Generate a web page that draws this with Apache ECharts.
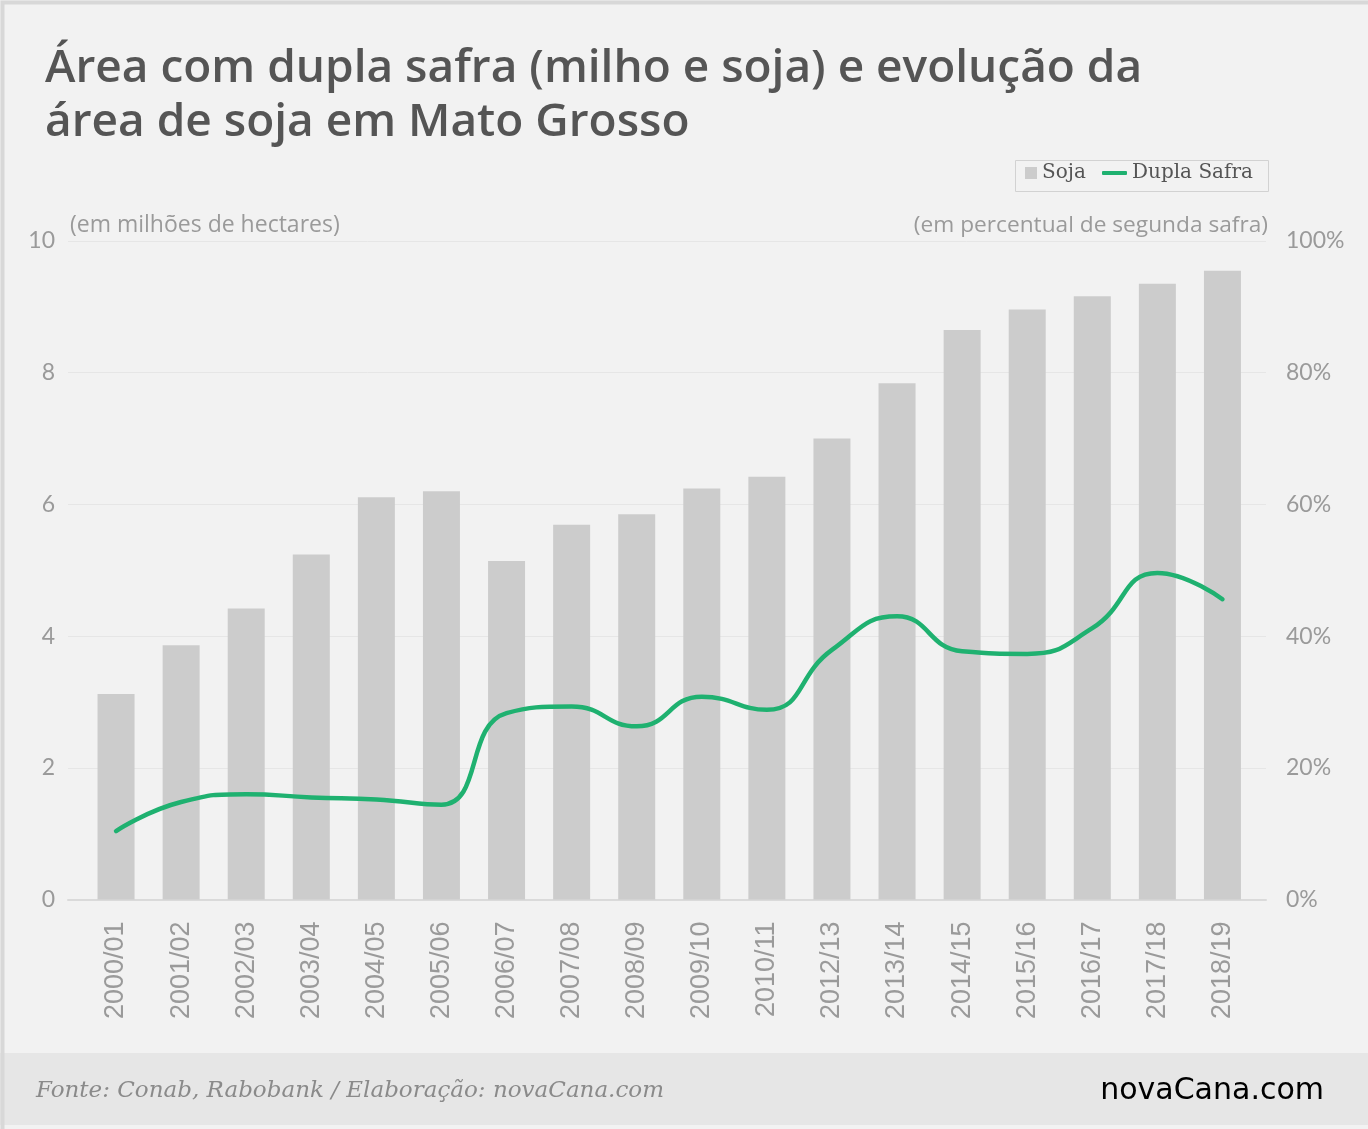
<!DOCTYPE html>
<html>
<head>
<meta charset="utf-8">
<title>Área com dupla safra e soja em Mato Grosso</title>
<script src="https://cdn.jsdelivr.net/npm/echarts@6/dist/echarts.min.js"></script>
<style>
  html, body { margin: 0; padding: 0; background: #f2f2f2; }
  #chart { width: 1368px; height: 1129px; }
</style>
</head>
<body>
<div id="chart"></div>
<script>
const categories = ['2000/01', '2001/02', '2002/03', '2003/04', '2004/05', '2005/06', '2006/07',
  '2007/08', '2008/09', '2009/10', '2010/11', '2012/13', '2013/14', '2014/15', '2015/16',
  '2016/17', '2017/18', '2018/19']
// área de soja, milhões de hectares
const soja = [3.12, 3.86, 4.42, 5.24, 6.11, 6.20, 5.14, 5.69, 5.85, 6.24, 6.42, 7.00, 7.84,
  8.65, 8.96, 9.16, 9.35, 9.55]
// dupla safra, % da área
const duplaSafra = [10.4, 14.8, 16.0, 15.5, 15.2, 14.4, 28.3, 29.3, 26.3, 30.8, 28.8, 37.9,
  43.0, 37.7, 37.3, 41.2, 49.6, 45.6]
const leftTicks = { min: 0, max: 10, interval: 2 }
const rightTicks = { min: 0, max: 100, interval: 20 }

const sans = 'Lato, "Open Sans", sans-serif'
const slab = '"DejaVu Serif", serif'
const grey = '#9a9a9a'
const green = '#1fb170'

const chart = echarts.init(document.getElementById('chart'))

chart.setOption({
  backgroundColor: '#f2f2f2',
  animation: false,
  title: {
    text: 'Área com dupla safra (milho e soja) e evolução da\nárea de soja em Mato Grosso',
    left: 40,
    top: 37,
    textStyle: {
      fontFamily: '"Open Sans", sans-serif',
      fontSize: 46,
      fontWeight: 600,
      color: '#555555',
      lineHeight: 54
    }
  },
  legend: [
    {
      left: 1025,
      top: 162,
      padding: 0,
      data: ['Soja'],
      icon: 'rect',
      itemWidth: 12,
      itemHeight: 12,
      textStyle: { fontFamily: slab, fontSize: 20, color: '#555555', lineHeight: 22 }
    },
    {
      left: 1102,
      top: 162,
      padding: 0,
      data: ['Dupla Safra'],
      icon: 'roundRect',
      itemWidth: 25,
      itemHeight: 4,
      textStyle: { fontFamily: slab, fontSize: 20, color: '#555555', lineHeight: 22 }
    }
  ],
  grid: [
    { left: 68, right: 102, top: 241, bottom: 229.5 },
    { left: 83.5, right: 113, top: 241, bottom: 229.5 }
  ],
  xAxis: [
    {
      gridIndex: 0,
      type: 'value',
      min: 0,
      max: 1,
      axisLine: { show: true, lineStyle: { color: '#dadada', width: 2 } },
      axisTick: { show: false },
      axisLabel: { show: false },
      splitLine: { show: false }
    },
    {
      gridIndex: 1,
      type: 'category',
      data: categories,
      axisLine: { show: false },
      axisTick: { show: false },
      axisLabel: {
        rotate: 90,
        margin: 22,
        fontFamily: '"Liberation Sans", Arial, sans-serif',
        fontSize: 27,
        color: grey
      }
    }
  ],
  yAxis: [
    {
      gridIndex: 0,
      type: 'value',
      ...leftTicks,
      axisLine: { show: false },
      axisTick: { show: false },
      axisLabel: { margin: 13, fontFamily: sans, fontSize: 23, color: grey },
      splitLine: { lineStyle: { color: '#e6e6e6', width: 1 } }
    },
    {
      gridIndex: 0,
      type: 'value',
      position: 'right',
      ...rightTicks,
      axisLine: { show: false },
      axisTick: { show: false },
      axisLabel: {
        margin: 20,
        formatter: '{value}%',
        fontFamily: sans,
        fontSize: 23,
        color: grey
      },
      splitLine: { show: false }
    },
    { gridIndex: 1, type: 'value', ...leftTicks, show: false },
    { gridIndex: 1, type: 'value', ...rightTicks, show: false }
  ],
  series: [
    {
      name: 'Soja',
      type: 'bar',
      xAxisIndex: 1,
      yAxisIndex: 2,
      data: soja,
      barWidth: 37,
      itemStyle: { color: '#cccccc' }
    },
    {
      name: 'Dupla Safra',
      type: 'line',
      xAxisIndex: 1,
      yAxisIndex: 3,
      data: duplaSafra,
      smooth: 0.5,
      showSymbol: false,
      symbol: 'none',
      lineStyle: { width: 4.5, color: green, cap: 'round' },
      itemStyle: { color: green }
    }
  ],
  graphic: [
    {
      type: 'rect',
      left: 1013,
      top: 158,
      shape: { width: 253, height: 31 },
      style: { fill: 'none', stroke: '#d2d2d2', lineWidth: 1 },
      silent: true
    },
    {
      type: 'text',
      left: 70,
      top: 214,
      style: { text: '(em milhões de hectares)', font: '23px "Open Sans", ' + sans, fill: grey }
    },
    {
      type: 'text',
      right: 100,
      top: 214,
      style: { text: '(em percentual de segunda safra)', font: '22.7px "Open Sans", ' + sans, fill: grey }
    },
    {
      type: 'rect',
      left: 0,
      top: 1053,
      shape: { width: 1368, height: 72 },
      style: { fill: '#e6e6e6' },
      z: -1
    },
    {
      type: 'text',
      left: 36,
      top: 1080,
      style: {
        text: 'Fonte: Conab, Rabobank / Elaboração: novaCana.com',
        font: 'italic 23px ' + slab,
        fill: '#8a8a8a'
      }
    },
    {
      type: 'text',
      right: 44,
      top: 1076,
      style: {
        text: '{a|novaCana}{b|.com}',
        rich: {
          a: { fontFamily: '"DejaVu Sans", sans-serif', fontSize: 30, color: '#111111' },
          b: { fontFamily: '"DejaVu Sans", sans-serif', fontSize: 30, color: '#138a3c' }
        }
      }
    },
    {
      type: 'rect',
      left: 0,
      top: 0,
      shape: { width: 1368, height: 1129 },
      style: { fill: 'none', stroke: '#d8d8d8', lineWidth: 4 },
      silent: true
    }
  ]
})
</script>
</body>
</html>
